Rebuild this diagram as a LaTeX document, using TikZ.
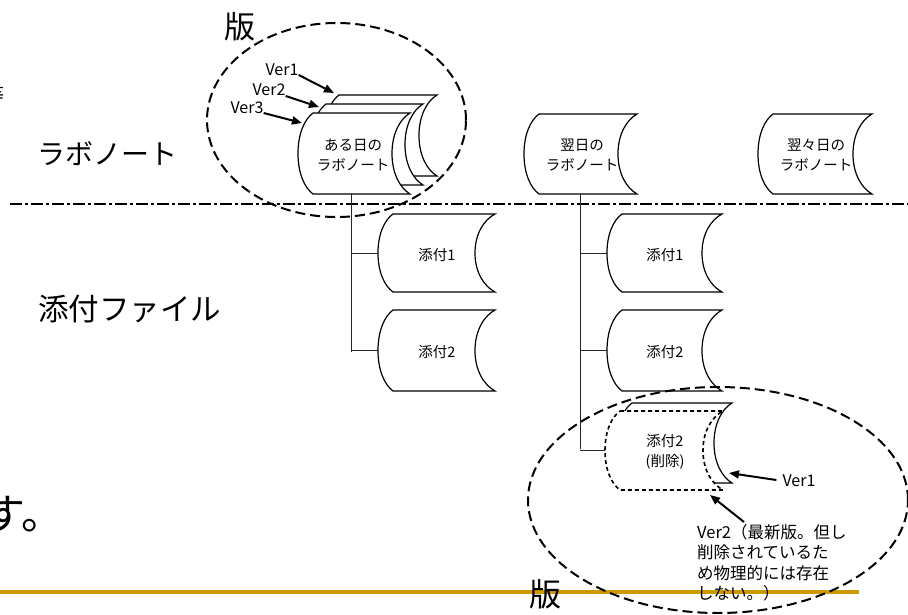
\documentclass[tikz,border=0pt]{standalone}
\usepackage{fontspec}
\setmainfont{Noto Sans CJK JP}
\usetikzlibrary{arrows.meta,calc}
\definecolor{gold}{RGB}{204,153,0}
\newcommand\sdpath[3]{let \p1=(#1.north west), \p2=(#1.south east), \n1={(\y1-\y2)/2} in
 (\x1+#2,\y1) -- (\x2,\y1)
 .. controls (\x2-0.55*#3,\y1-0.15*\n1) and (\x2-#3,\y1-0.5*\n1) .. (\x2-#3,\y1-\n1)
 .. controls (\x2-#3,\y2+0.5*\n1) and (\x2-0.55*#3,\y2+0.15*\n1) .. (\x2,\y2)
 -- (\x1+#2,\y2)
 .. controls (\x1+0.45*#2,\y2+0.15*\n1) and (\x1,\y2+0.5*\n1) .. (\x1,\y2+\n1)
 .. controls (\x1,\y1-0.5*\n1) and (\x1+0.45*#2,\y1-0.15*\n1) .. cycle}
\begin{document}
\begin{tikzpicture}[x=1pt,y=-1pt,
  sdbox/.style={inner sep=0pt,outer sep=0pt},
  shp/.style={draw=black,fill=white,line width=1.2pt},
  shpdash/.style={draw=black,fill=white,line width=1.6pt,dash pattern=on 4pt off 3pt},
  lbl/.style={align=center,inner sep=0pt,font=\fontsize{14.5}{20}\selectfont},
  big/.style={inner sep=0pt,font=\fontsize{28}{34}\selectfont},
  ver/.style={inner sep=0pt,font=\fontsize{16}{20}\selectfont},
  arr/.style={line width=2pt,-{Triangle[length=10pt,width=8pt]}},
  tree/.style={line width=1pt,black!85},
  ell/.style={line width=2pt,dash pattern=on 10pt off 5pt},
  dashdotline/.style={line width=2pt,dash pattern=on 12pt off 3pt on 3pt off 3pt}]
\useasboundingbox (0,0) rectangle (908,615);
\fill[white] (0,0) rectangle (908,615);

% gold line and separator
\draw[gold,line width=3.5pt] (0,592) -- (859,592);
\draw[dashdotline] (10,204) -- (908,204);

% boxes
\node[sdbox,minimum width=113pt,minimum height=81pt] (v1) at (380.5,135.5) {};
\node[sdbox,minimum width=112pt,minimum height=81pt] (v2) at (367,144.5) {};
\node[sdbox,minimum width=112pt,minimum height=81pt] (v3) at (354,153.5) {};
\node[sdbox,minimum width=113pt,minimum height=80pt] (d1) at (580.5,154) {};
\node[sdbox,minimum width=114pt,minimum height=80pt] (d2) at (815,154) {};
\node[sdbox,minimum width=117pt,minimum height=78pt] (a1) at (436.5,253) {};
\node[sdbox,minimum width=117pt,minimum height=81pt] (a2) at (436.5,350.5) {};
\node[sdbox,minimum width=115pt,minimum height=78pt] (b1) at (664.5,253) {};
\node[sdbox,minimum width=115pt,minimum height=81pt] (b2) at (664.5,350.5) {};
\node[sdbox,minimum width=115pt,minimum height=80pt] (c1) at (674.5,443) {};
\node[sdbox,minimum width=118pt,minimum height=79pt] (c2) at (664,450.5) {};

% tree connectors
\coordinate (j1) at (351,352);
\coordinate (j2) at (580,449);
\draw[tree] (j1 |- v3.south) -- (j1);
\draw[tree] (j1 |- a1.west) -- (a1.west);
\draw[tree] (j1 |- a2.west) -- (a2.west);
\draw[tree] (j2 |- d1.south) -- (j2);
\draw[tree] (j2 |- b1.west) -- (b1.west);
\draw[tree] (j2 |- b2.west) -- (b2.west);
\draw[tree] (j2 |- c2.west) -- (c2.west);

% shapes
\path[shp] \sdpath{v1}{15}{18};
\path[shp] \sdpath{v2}{15}{18};
\path[shp] \sdpath{v3}{15}{18};
\path[shp] \sdpath{d1}{15}{19};
\path[shp] \sdpath{d2}{15}{19};
\path[shp] \sdpath{a1}{15}{20};
\path[shp] \sdpath{a2}{15}{20};
\path[shp] \sdpath{b1}{15}{20};
\path[shp] \sdpath{b2}{15}{20};
\path[shp] \sdpath{c1}{15}{18};
\path[shpdash] \sdpath{c2}{15}{20};

% shape labels
\node[lbl] (v3t) at (353,155) {ある日の\\ラボノート};
\node[lbl] (d1t) at (582,155) {翌日の\\ラボノート};
\node[lbl] (d2t) at (816,155) {翌々日の\\ラボノート};
\node[lbl] (a1t) at (437,255) {添付1};
\node[lbl] (a2t) at (437,352) {添付2};
\node[lbl] (b1t) at (665,255) {添付1};
\node[lbl] (b2t) at (665,352) {添付2};
\node[lbl] (c2t) at (665,452) {添付2\\(削除)};

% big labels
\node[big,anchor=west] (lab) at (37,154) {ラボノート};
\node[big,anchor=west,font=\fontsize{30.5}{36}\selectfont] (att) at (38,309) {添付ファイル};
\node[big,font=\fontsize{31}{36}\selectfont] (han1) at (240,27) {版};
\node[big,font=\fontsize{32}{36}\selectfont] (han2) at (545,594) {版};
\node[big,anchor=west,font=\fontsize{42}{48}\selectfont] (su) at (-17,514) {す。};
\node[big,font=\fontsize{20}{24}\selectfont] (tou) at (-6,95) {等};

% version labels
\node[ver] (l1) at (282,70) {Ver1};
\node[ver] (l2) at (269,90) {Ver2};
\node[ver] (l3) at (247,108) {Ver3};
\draw[arr] ($(l1.east)+(0,5)$) -- ($(v1.north west)+(10,-2)$);
\draw[arr] ($(l2.east)+(0,6)$) -- ($(v2.north west)+(8,3)$);
\draw[arr] ($(l3.east)+(0,5)$) -- ($(v3.north west)+(4,10)$);

\node[ver] (l4) at (799,481) {Ver1};
\draw[arr] ($(l4.west)+(-6,-1)$) -- ($(c1.south east)+(-3,-10)$);
\node[ver,anchor=north west,align=left,font=\fontsize{16.5}{20.5}\selectfont] (n2) at (697,524)
  {Ver2（最新版。但し\\削除されているた\\め物理的には存在\\しない。）};
\draw[arr] ($(n2.north west)+(47,-2)$) -- ($(c2.south east)+(-13,5)$);

% version ellipses
\draw[ell] (336.5,120) ellipse [x radius=129.5pt, y radius=97pt];
\draw[ell] (718,500) ellipse [x radius=190pt, y radius=113pt];
\end{tikzpicture}
\end{document}
